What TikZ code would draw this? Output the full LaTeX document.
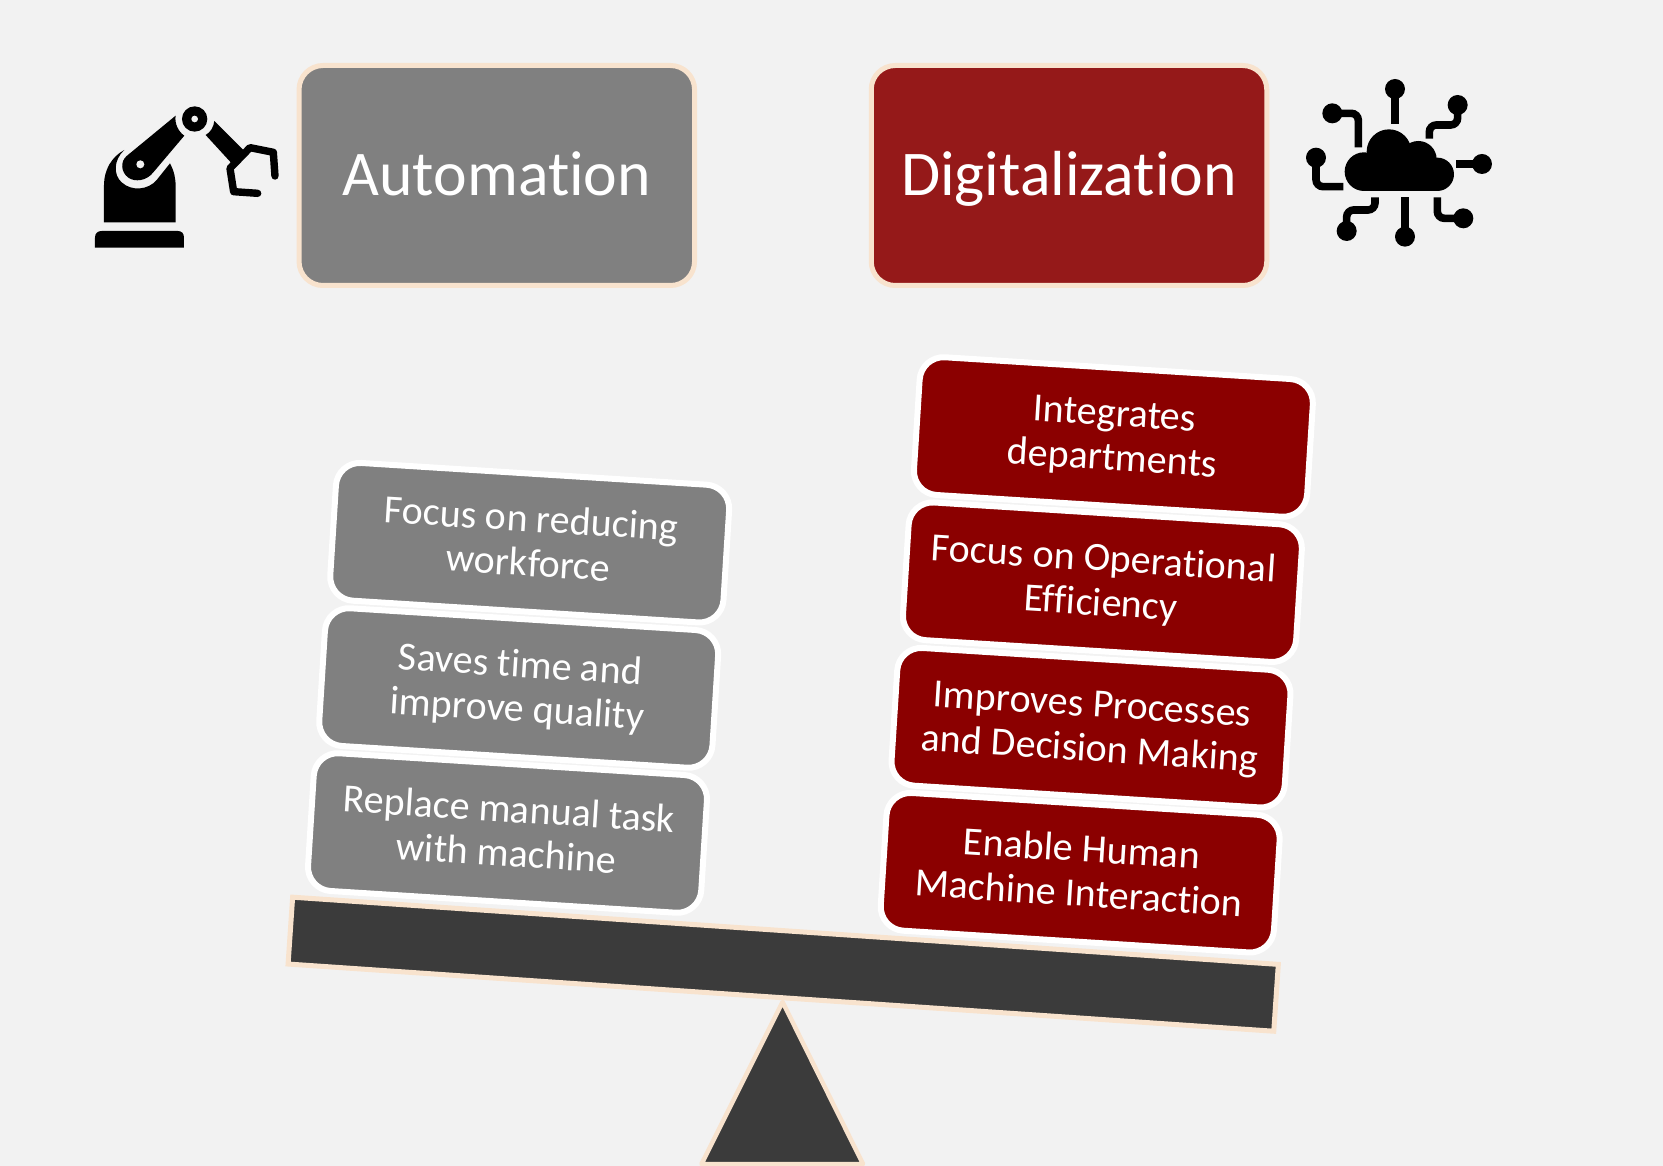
\documentclass[tikz,border=0pt]{standalone}
\usepackage{fontspec}
\setmainfont[Ligatures=NoCommon]{Carlito}
\definecolor{bgc}{HTML}{F2F2F2}
\definecolor{rim}{HTML}{F8E3CE}
\definecolor{graybox}{HTML}{808080}
\definecolor{headred}{HTML}{951919}
\definecolor{cardred}{HTML}{8B0000}
\definecolor{beamc}{HTML}{3B3B3B}
\newcommand\cardtop{\rule{0pt}{32pt}}
\newcommand\cardbot{\rule[-9.5pt]{0pt}{0pt}}
\tikzset{
  header/.style={draw=rim,line width=5pt,rounded corners=24pt,minimum width=395.5pt,minimum height=220pt,inner sep=0pt,
    text=white,font=\fontsize{63.7}{70}\selectfont,text height=50pt,text depth=10pt},
  card/.style={draw=white,line width=6pt,rounded corners=24pt,minimum width=394pt,minimum height=138pt,inner sep=0pt,
    text=white,rotate=-3.6,align=center,font=\fontsize{40}{44.5}\selectfont},
  beam/.style={draw=rim,fill=beamc,line width=5pt,minimum width=988pt,minimum height=67pt,inner sep=0pt,rotate=-3.9},
  wire/.style={line width=7.6pt,rounded corners=7pt},
  grip/.style={line width=7.4pt,line cap=round,line join=round}
}
\begin{document}
\begin{tikzpicture}[x=1pt,y=-1pt]
\useasboundingbox (0,0) rectangle (1663,1166);
\fill[bgc] (0,0) rectangle (1663,1166);
% headers
\node[header,fill=graybox] (auto) at (496.8,175.5) {Automation};
\node[header,fill=headred] (digi) at (1069,175.5) {Digitalization};
% left cards
\node[card,fill=graybox] (l1) at (529.7,542.7) {\cardtop Focus on reducing\\workforce\cardbot};
\node[card,fill=graybox] (l2) at (518.7,688) {\cardtop Saves time and\\improve quality\cardbot};
\node[card,fill=graybox] (l3) at (507.5,833) {\cardtop Replace manual task\\with machine\cardbot};
% right cards
\node[card,fill=cardred] (r1) at (1113.4,437) {\cardtop Integrates\\departments\cardbot};
\node[card,fill=cardred] (r2) at (1102.4,582.2) {\cardtop Focus on Operational\\Efficiency\cardbot};
\node[card,fill=cardred] (r3) at (1091,727.7) {\cardtop Improves Processes\\and Decision Making\cardbot};
\node[card,fill=cardred] (r4) at (1080.2,872.7) {\cardtop Enable Human\\Machine Interaction\cardbot};
% balance
\node[beam] (bar) at (783.2,964.2) {};
\draw[rim,fill=beamc,line width=4.5pt,line join=round] (782.6,1002) -- (863,1164) -- (701.5,1164) -- cycle;
% robot icon
\begin{scope}[shift={(85,95)},scale=0.3333]
  \fill[black] (30,458) -- (30,428) .. controls (30,415) and (38,408) .. (50,408) -- (278,408)
     .. controls (290,408) and (297,415) .. (297,428) -- (297,458) -- cycle;
  \fill[black] (57,382) -- (57,270) .. controls (57,225) and (80,185) .. (118,165)
     .. controls (85,195) and (85,240) .. (110,262) .. controls (140,290) and (190,285) .. (215,255)
     -- (255,205) .. controls (268,230) and (272,250) .. (272,275) -- (272,382) -- cycle;
  \fill[black] (272,62) .. controls (268,85) and (280,110) .. (298,122) -- (205,232)
     .. controls (185,258) and (150,262) .. (130,248) .. controls (108,232) and (105,200) .. (125,183) -- cycle;
  \fill[bgc] (166,208) circle (12);
  \fill[black] (329,72) circle (38);
  \fill[bgc] (329,72) circle (10);
  \fill[black] (388,78) -- (478,168) -- (440,205) -- (362,120) .. controls (376,112) and (386,97) .. (388,78) -- cycle;
  \draw[black,grip] (570,243) -- (565,172) -- (495,158) -- (435,220) -- (446,290) -- (518,295);
\end{scope}
% cloud icon
\begin{scope}[shift={(1290,70)},scale=0.3333]
  \fill[black] (222,305) circle (58);
  \fill[black] (442,313) circle (50);
  \fill[black] (297,245) circle (67);
  \fill[black] (385,268) circle (55);
  \fill[black] (222,290) rectangle (442,363);
  \fill[black] (315,57) circle (30);
  \fill[black] (503,105) circle (30);
  \fill[black] (127,130) circle (30);
  \fill[black] (78,263) circle (30);
  \fill[black] (576,282) circle (30);
  \fill[black] (345,500) circle (30);
  \fill[black] (170,483) circle (30);
  \fill[black] (520,445) circle (30);
  \draw[black,line width=7.6pt] (315,57) -- (315,162);
  \draw[black,wire] (503,105) -- (503,165) -- (418,165) -- (418,206);
  \draw[black,wire] (127,130) -- (205,130) -- (205,232);
  \draw[black,wire] (78,263) -- (78,350) -- (160,350);
  \draw[black,line width=7.6pt] (576,282) -- (497,282);
  \draw[black,line width=7.6pt] (345,500) -- (345,382);
  \draw[black,wire] (170,483) -- (170,420) -- (255,420) -- (255,382);
  \draw[black,wire] (520,445) -- (442,445) -- (442,382);
\end{scope}
\end{tikzpicture}
\end{document}
